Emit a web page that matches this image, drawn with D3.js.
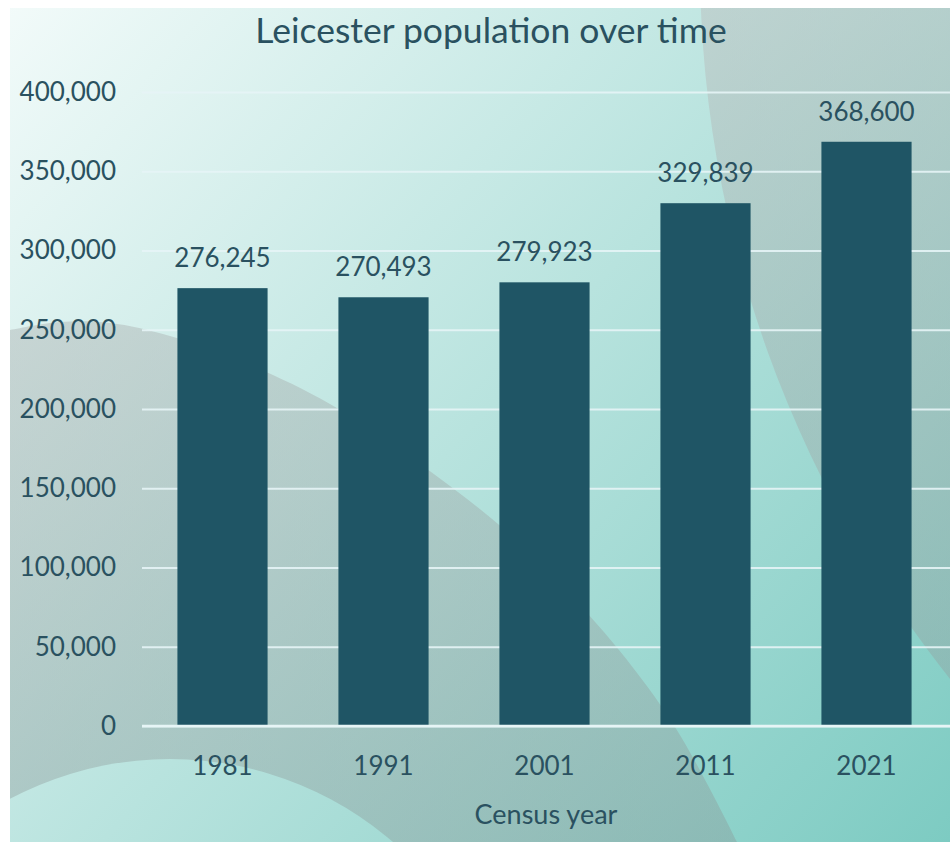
<!DOCTYPE html>
<html>
<head>
<meta charset="utf-8">
<script src="https://cdn.jsdelivr.net/npm/d3@7"></script>
<style>
  html, body { margin: 0; padding: 0; background: #ffffff; }
  svg { display: block; }
  text { font-family: Lato, "Noto Sans", sans-serif; fill: #2a5160; }
</style>
</head>
<body>
<svg id="chart" width="950" height="842"></svg>
<script>
// ---- data ----
const years = ["1981", "1991", "2001", "2011", "2021"];
const population = [276245, 270493, 279923, 329839, 368600];
const yTickValues = [0, 50000, 100000, 150000, 200000, 250000, 300000, 350000, 400000];
const chartTitle = "Leicester population over time";
const xAxisTitle = "Census year";

// ---- layout ----
const W = 950, H = 842;
const frame = { left: 10, top: 8 };
const plot = { left: 142, right: 947, gridRight: 950, top: 92, bottom: 726 };

const svg = d3.select("#chart");
const defs = svg.append("defs");

// background gradient
const bg = defs.append("linearGradient").attr("id", "bgGrad")
  .attr("gradientUnits", "userSpaceOnUse")
  .attr("x1", 0).attr("y1", 0).attr("x2", W).attr("y2", H);
bg.append("stop").attr("offset", 0).attr("stop-color", "#f3fbfa");
bg.append("stop").attr("offset", 1).attr("stop-color", "#7dcbc2");

const shade = defs.append("linearGradient").attr("id", "shadeGrad")
  .attr("gradientUnits", "userSpaceOnUse")
  .attr("x1", 0).attr("y1", 0).attr("x2", 0).attr("y2", H);
shade.append("stop").attr("offset", 0).attr("stop-color", "#bababa").attr("stop-opacity", 0.44);
shade.append("stop").attr("offset", 1).attr("stop-color", "#8a9696").attr("stop-opacity", 0.38);

defs.append("clipPath").attr("id", "frameClip")
  .append("rect").attr("x", frame.left).attr("y", frame.top)
  .attr("width", W - frame.left).attr("height", H - frame.top);

const bgG = svg.append("g").attr("clip-path", "url(#frameClip)");
bgG.append("rect").attr("x", frame.left).attr("y", frame.top)
  .attr("width", W - frame.left).attr("height", H - frame.top)
  .attr("fill", "url(#bgGrad)");

// right shaded disc
bgG.append("circle").attr("cx", 1850).attr("cy", -37).attr("r", 1150)
  .attr("fill", "url(#shadeGrad)");

// left/bottom shaded hill
const hillPts = [[0, 332], [10, 330], [60, 322], [110, 323], [170, 336], [250, 365], [330, 404],
  [427, 469], [505, 530], [560, 584], [619, 650], [675, 727], [737, 842], [745, 860]];
const hillLine = d3.line().curve(d3.curveCatmullRom.alpha(0.5));
bgG.append("path")
  .attr("d", hillLine(hillPts) + "L0,860Z")
  .attr("fill", "url(#shadeGrad)");

// light disc bottom-left
bgG.append("circle").attr("cx", 170).attr("cy", 1100).attr("r", 341)
  .attr("fill", "url(#bgGrad)");

// ---- scales ----
const x = d3.scaleBand().domain(years)
  .range([plot.left, plot.right]).paddingInner(0.44).paddingOuter(0.22);
const y = d3.scaleLinear().domain([0, 400000]).range([plot.bottom, plot.top]);

// y axis with gridlines
const yAxis = svg.append("g")
  .attr("transform", `translate(${plot.left},0)`)
  .call(d3.axisLeft(y).tickValues(yTickValues).tickFormat(d3.format(","))
    .tickSizeInner(-(plot.gridRight - plot.left)).tickSizeOuter(0).tickPadding(26));
yAxis.select(".domain").remove();
yAxis.selectAll(".tick line")
  .attr("stroke", "#e6f4f6").attr("stroke-opacity", 0.9).attr("stroke-width", 2);
yAxis.selectAll(".tick text")
  .attr("font-size", 26).attr("fill", "#2a5160");

// bars
svg.append("g").selectAll("rect").data(population).join("rect")
  .attr("x", (d, i) => x(years[i]))
  .attr("y", d => y(d))
  .attr("width", x.bandwidth())
  .attr("height", d => y(0) - y(d))
  .attr("fill", "#1f5565");

// zero line on top
svg.append("line")
  .attr("x1", plot.left).attr("x2", plot.gridRight)
  .attr("y1", y(0)).attr("y2", y(0))
  .attr("stroke", "#e6f5f6").attr("stroke-width", 2.5);

// value labels
svg.append("g").selectAll("text").data(population).join("text")
  .attr("x", (d, i) => x(years[i]) + x.bandwidth() / 2)
  .attr("y", d => y(d) - 21)
  .attr("text-anchor", "middle")
  .attr("font-size", 26)
  .text(d => d3.format(",")(d));

// x axis
const xAxis = svg.append("g")
  .attr("transform", `translate(0,${plot.bottom})`)
  .call(d3.axisBottom(x).tickSize(0).tickPadding(31));
xAxis.select(".domain").remove();
xAxis.selectAll(".tick text").attr("font-size", 26).attr("fill", "#2a5160");

// titles
svg.append("text")
  .attr("x", 491).attr("y", 43)
  .attr("text-anchor", "middle")
  .attr("font-size", 35.5)
  .text(chartTitle);

svg.append("text")
  .attr("x", 546).attr("y", 824)
  .attr("text-anchor", "middle")
  .attr("font-size", 27)
  .text(xAxisTitle);
</script>
</body>
</html>
